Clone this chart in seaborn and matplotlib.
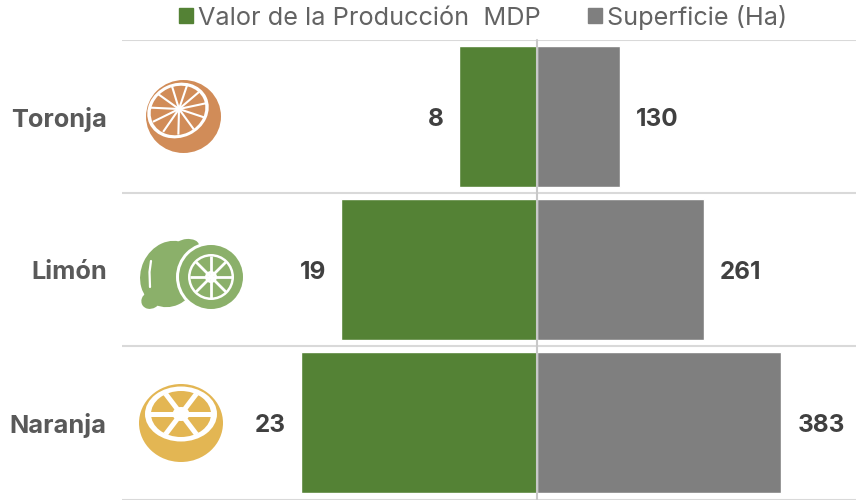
import numpy as np
import pandas as pd
import seaborn as sns
import matplotlib.pyplot as plt
from matplotlib.patches import Circle, Ellipse, Patch

#datos
cultivos = ["Toronja", "Limón", "Naranja"]
valor_mdp = [7.65, 19.1, 23.0]
valor_labels = ["8", "19", "23"]
superficie_ha = [130, 261, 383]
superficie_labels = ["130", "261", "383"]
legend_labels = ["Valor de la Producción  MDP", "Superficie (Ha)"]

df = pd.DataFrame({"cultivo": cultivos, "valor": valor_mdp, "superficie": superficie_ha})

sns.set_theme(style="white")
plt.rcParams["font.family"] = ["Inter", "DejaVu Sans"]

VERDE = "#548235"
GRIS = "#7f7f7f"
LINEA = "#d9d9d9"
TEXTO = "#595959"
ETIQUETA = "#404040"
W, H = 862, 500

fig = plt.figure(figsize=(W / 100, H / 100), dpi=100)
ax_l = fig.add_axes([122 / W, 0.5 / H, 415 / W, 459.5 / H])
ax_r = fig.add_axes([537 / W, 0.5 / H, 319 / W, 459.5 / H])

sns.barplot(data=df, y="cultivo", x="valor", color=VERDE, saturation=1, width=0.92, ax=ax_l)
sns.barplot(data=df, y="cultivo", x="superficie", color=GRIS, saturation=1, width=0.92, ax=ax_r)

ax_l.set_xlim(40.5, 0)
ax_r.set_xlim(0, 500)

for ax in (ax_l, ax_r):
    ax.set_ylim(2.5, -0.5)
    ax.set_xlabel("")
    ax.set_ylabel("")
    ax.set_xticks([])
    ax.set_yticks([-0.5, 0.5, 1.5, 2.5], minor=True)
    ax.grid(which="minor", axis="y", color=LINEA, linewidth=1.5)
    ax.set_axisbelow(True)
    ax.tick_params(which="both", length=0)
    sns.despine(ax=ax, left=True, right=True, top=True, bottom=True)

ax_r.set_yticks([])
ax_r.set_yticks([-0.5, 0.5, 1.5, 2.5], minor=True)
ax_r.tick_params(which="both", length=0, labelleft=False)
ax_r.grid(which="minor", axis="y", color=LINEA, linewidth=1.5)

ax_l.set_yticks(range(3), cultivos)
ax_l.tick_params(axis="y", which="major", pad=11, length=0)
for t in ax_l.get_yticklabels():
    t.set_fontsize(18.3)
    t.set_fontweight("bold")
    t.set_color(TEXTO)
    t.set_va("center_baseline")

#etiquetas de valores
ax_l.bar_label(ax_l.containers[0], labels=valor_labels, padding=11, fontsize=17.5,
               fontweight="bold", color=ETIQUETA)
ax_r.bar_label(ax_r.containers[0], labels=superficie_labels, padding=11.5, fontsize=17.5,
               fontweight="bold", color=ETIQUETA)
for ax in (ax_l, ax_r):
    for t in ax.texts:
        t.set_clip_on(False)
        t.set_va("center_baseline")

#linea central
ax_r.axvline(0, color="#c8c8c8", linewidth=1.5, clip_on=False, zorder=5)

#leyenda
handles = [Patch(color=VERDE, label=legend_labels[0]), Patch(color=GRIS, label=legend_labels[1])]
fig.legend(handles=handles, loc="upper left", bbox_to_anchor=(161.5 / W, 1.026), ncols=2, frameon=False,
           fontsize=18.2, labelcolor="#636363", handlelength=0.55, handleheight=0.55,
           handletextpad=0.2, columnspacing=1.85, borderpad=0.2)

#iconos, en pixeles
ov = fig.add_axes([0, 0, 1, 1], zorder=10)
ov.set_xlim(0, W)
ov.set_ylim(H, 0)
ov.axis("off")


def spokes(cx, cy, rx, ry, rot, n, start, lw):
    rad = np.deg2rad(rot)
    for a in np.deg2rad(start + np.arange(n) * 360 / n):
        x, y = rx * np.cos(a), ry * np.sin(a)
        xr = x * np.cos(rad) - y * np.sin(rad)
        yr = x * np.sin(rad) + y * np.cos(rad)
        ov.plot([cx, cx + xr], [cy, cy + yr], color="white", lw=lw, solid_capstyle="butt")


#toronja
C1 = "#d18c58"
ov.add_patch(Ellipse((183.5, 116.5), 75, 73, color=C1, lw=0))
ov.add_patch(Ellipse((178, 110.5), 63, 54, angle=-25, color="white", lw=0))
ov.add_patch(Ellipse((178, 110.5), 56, 48, angle=-25, color=C1, lw=0))
spokes(179, 109, 29, 25, -25, 11, 15, 1.5)
ov.add_patch(Circle((179, 109), 2.5, color="white", lw=0))

#limon
C2 = "#8bb06a"
ov.add_patch(Ellipse((170, 274), 58, 68, angle=25, color=C2, lw=0))
ov.add_patch(Ellipse((187, 246), 24, 14, angle=-5, color=C2, lw=0))
ov.add_patch(Ellipse((151, 300), 20, 17, angle=-30, color=C2, lw=0))
ov.plot([151, 149.5, 150], [261, 272, 287], color="white", lw=1.6)
ov.add_patch(Circle((211, 277), 35, color="white", lw=0))
ov.add_patch(Circle((211, 277), 32, color=C2, lw=0))
ov.add_patch(Circle((211, 277), 23, color="white", lw=0))
ov.add_patch(Circle((211, 277), 20.5, color=C2, lw=0))
spokes(211, 277, 21, 21, 0, 8, 0, 2.0)
ov.add_patch(Circle((211, 277), 6, color="white", lw=0))
ov.add_patch(Circle((211, 277), 3.3, color=C2, lw=0))

#naranja
C3 = "#e3b653"
ov.add_patch(Ellipse((181, 423), 84, 78, color=C3, lw=0))
ov.add_patch(Ellipse((181, 414), 72, 55, color="white", lw=0))
ov.add_patch(Ellipse((181, 414), 60, 46, color=C3, lw=0))
spokes(181, 414, 31, 23.5, 0, 6, 0, 3.6)
ov.add_patch(Ellipse((181, 414), 17, 14, color="white", lw=0))

fig.savefig("out.png", dpi=100)
